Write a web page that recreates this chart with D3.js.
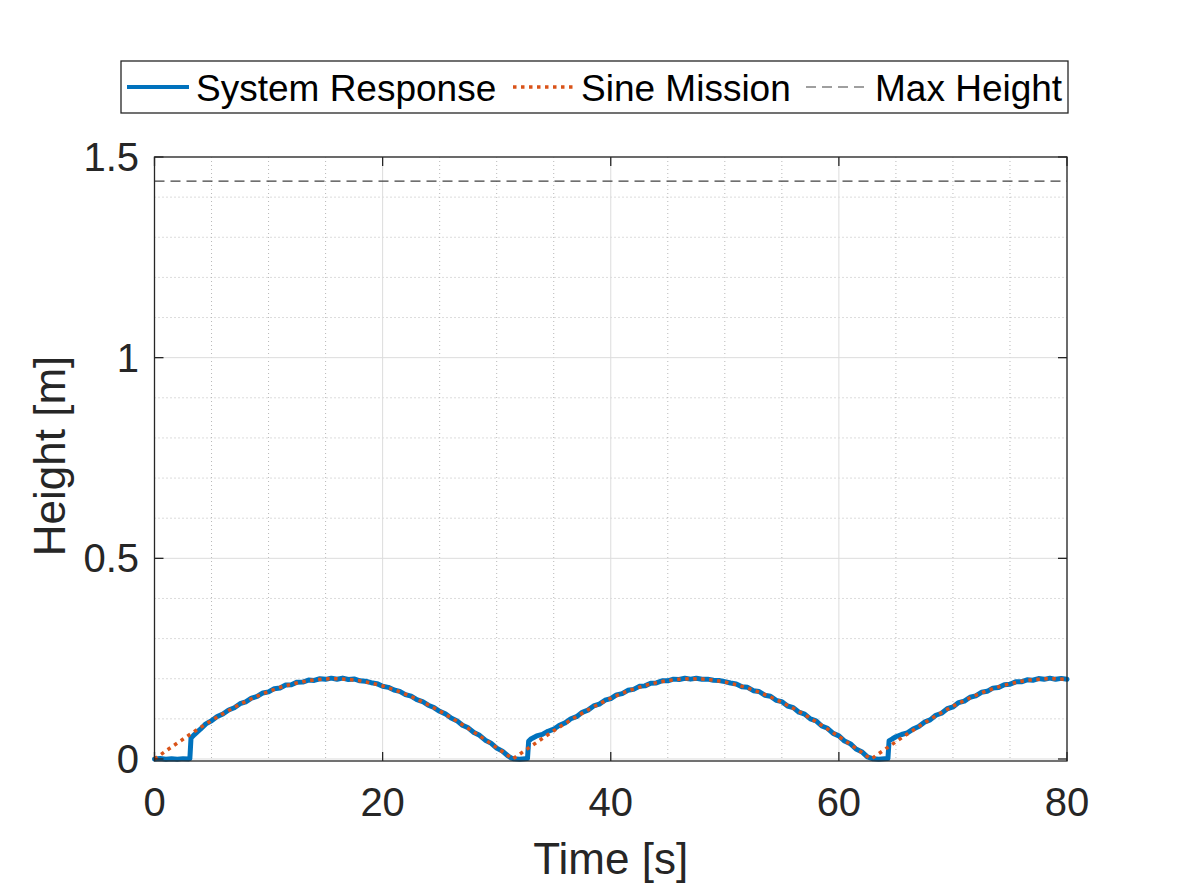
<!DOCTYPE html>
<html>
<head>
<meta charset="utf-8">
<script src="https://cdn.jsdelivr.net/npm/d3@7/dist/d3.min.js"></script>
<style>
  html, body { margin: 0; padding: 0; background: #fff; }
  svg { display: block; font-family: "Liberation Sans", Arial, Helvetica, sans-serif; }
</style>
</head>
<body>
<svg id="chart" width="1181" height="886"></svg>
<script>
// ---------------- data ----------------
const seriesNames = ["System Response", "Sine Mission", "Max Height"];
const maxHeight = 1.44;

const missionTime = [0,1,2,3,4,5,6,7,8,9,10,11,12,13,14,15,16,17,18,19,20,21,22,23,24,25,26,27,28,29,30,31,31.4,32,33,34,35,36,37,38,39,40,41,42,43,44,45,46,47,48,49,50,51,52,53,54,55,56,57,58,59,60,61,62,62.8,63,64,65,66,67,68,69,70,71,72,73,74,75,76,77,78,79,80];
const missionHeight = [0,0.0200,0.0397,0.0591,0.0779,0.0959,0.1129,0.1288,0.1435,0.1567,0.1683,0.1782,0.1864,0.1927,0.1971,0.1995,0.1999,0.1983,0.1948,0.1893,0.1819,0.1726,0.1617,0.1491,0.1351,0.1197,0.1031,0.0855,0.0670,0.0478,0.0282,0.0083,0,0.0117,0.0315,0.0511,0.0702,0.0885,0.1060,0.1224,0.1376,0.1514,0.1637,0.1743,0.1832,0.1903,0.1955,0.1987,0.2000,0.1992,0.1965,0.1918,0.1852,0.1767,0.1665,0.1546,0.1411,0.1263,0.1101,0.0929,0.0748,0.0559,0.0364,0.0166,0,0.0034,0.0233,0.0430,0.0623,0.0810,0.0988,0.1157,0.1314,0.1458,0.1587,0.1701,0.1797,0.1876,0.1936,0.1976,0.1997,0.1998,0.1979];

const responseTime = [0,0.5,1,1.5,2,2.5,3,3.1,3.2,3.5,4,4.5,5,5.5,6,6.5,7,7.5,8,8.5,9,9.5,10,10.5,11,11.5,12,12.5,13,13.5,14,14.5,15,15.5,16,16.5,17,17.5,18,18.5,19,19.5,20,20.5,21,21.5,22,22.5,23,23.5,24,24.5,25,25.5,26,26.5,27,27.5,28,28.5,29,29.5,30,30.5,31,31.3,31.5,32,32.5,32.7,32.8,33,33.5,34,34.5,35,35.5,36,36.5,37,37.5,38,38.5,39,39.5,40,40.5,41,41.5,42,42.5,43,43.5,44,44.5,45,45.5,46,46.5,47,47.5,48,48.5,49,49.5,50,50.5,51,51.5,52,52.5,53,53.5,54,54.5,55,55.5,56,56.5,57,57.5,58,58.5,59,59.5,60,60.5,61,61.5,62,62.5,63,63.5,64,64.3,64.4,64.7,65,65.5,66,66.5,67,67.5,68,68.5,69,69.5,70,70.5,71,71.5,72,72.5,73,73.5,74,74.5,75,75.5,76,76.5,77,77.5,78,78.5,79,79.5,80];
const responseHeight = [0,0.0010,-0.0008,0.0008,-0.0006,0.0009,0.0002,0.0010,0.0520,0.0610,0.0735,0.0875,0.0952,0.1058,0.1122,0.1222,0.1278,0.1378,0.1425,0.1518,0.1558,0.1645,0.1672,0.1752,0.1770,0.1842,0.1852,0.1915,0.1918,0.1966,0.1958,0.2000,0.1985,0.2015,0.1988,0.2016,0.1982,0.1995,0.1948,0.1938,0.1902,0.1878,0.1812,0.1785,0.1718,0.1685,0.1605,0.1565,0.1478,0.1432,0.1340,0.1282,0.1188,0.1125,0.1020,0.0955,0.0842,0.0777,0.0660,0.0590,0.0468,0.0395,0.0272,0.0195,0.0075,0.0020,0.0005,-0.0004,0.0008,0.0010,0.0440,0.0500,0.0575,0.0612,0.0690,0.0742,0.0842,0.0900,0.1002,0.1055,0.1162,0.1218,0.1322,0.1368,0.1465,0.1505,0.1598,0.1628,0.1712,0.1735,0.1810,0.1822,0.1888,0.1895,0.1950,0.1948,0.1990,0.1980,0.2012,0.1990,0.2012,0.1985,0.1990,0.1962,0.1955,0.1928,0.1895,0.1870,0.1798,0.1785,0.1702,0.1682,0.1590,0.1565,0.1462,0.1430,0.1320,0.1280,0.1165,0.1118,0.1000,0.0948,0.0822,0.0765,0.0638,0.0576,0.0446,0.0382,0.0250,0.0182,0.0052,0.0005,-0.0004,0.0006,0.0010,0.0450,0.0505,0.0555,0.0610,0.0652,0.0745,0.0808,0.0918,0.0975,0.1090,0.1140,0.1252,0.1298,0.1405,0.1442,0.1540,0.1572,0.1662,0.1686,0.1766,0.1782,0.1852,0.1862,0.1922,0.1922,0.1972,0.1962,0.2005,0.1985,0.2015,0.1985,0.2008,0.1985];

const xTicks = [0, 20, 40, 60, 80];
const xTickLabels = ["0", "20", "40", "60", "80"];
const yTicks = [0, 0.5, 1, 1.5];
const yTickLabels = ["0", "0.5", "1", "1.5"];
const xMinorTicks = [5,10,15,25,30,35,45,50,55,65,70,75];
const yMinorTicks = [0.1,0.2,0.3,0.4,0.6,0.7,0.8,0.9,1.1,1.2,1.3,1.4];
const xLabel = "Time [s]";
const yLabel = "Height [m]";

// ---------------- layout ----------------
const L = 154.5, R = 1067, T = 157, B = 761;
const axisColor = "#262626";
const blue = "#0072BD", orange = "#D95319";

const svg = d3.select("#chart");
const x = d3.scaleLinear().domain([0, 80]).range([L, R]);
const y = d3.scaleLinear().domain([-0.005, 1.5]).range([B, T]);

// minor grid
const g = svg.append("g");
g.selectAll("line.xm").data(xMinorTicks).enter().append("line")
  .attr("x1", d => x(d)).attr("x2", d => x(d)).attr("y1", T).attr("y2", B)
  .attr("stroke", "#b8b8b8").attr("stroke-width", 1).attr("stroke-dasharray", "1,3");
g.selectAll("line.ym").data(yMinorTicks).enter().append("line")
  .attr("y1", d => y(d)).attr("y2", d => y(d)).attr("x1", L).attr("x2", R)
  .attr("stroke", "#b8b8b8").attr("stroke-width", 1).attr("stroke-dasharray", "1,3");
// major grid
g.selectAll("line.xg").data(xTicks).enter().append("line")
  .attr("x1", d => x(d)).attr("x2", d => x(d)).attr("y1", T).attr("y2", B)
  .attr("stroke", "#dcdcdc").attr("stroke-width", 1);
g.selectAll("line.yg").data(yTicks).enter().append("line")
  .attr("y1", d => y(d)).attr("y2", d => y(d)).attr("x1", L).attr("x2", R)
  .attr("stroke", "#dcdcdc").attr("stroke-width", 1);

// clip
svg.append("clipPath").attr("id", "clip").append("rect")
  .attr("x", L).attr("y", T).attr("width", R - L).attr("height", B - T);
const plot = svg.append("g").attr("clip-path", "url(#clip)");

// max height dashed
plot.append("line")
  .attr("x1", x(0)).attr("x2", x(80)).attr("y1", y(maxHeight)).attr("y2", y(maxHeight))
  .attr("stroke", "#404040").attr("stroke-width", 1.1).attr("stroke-dasharray", "10,6");

const line = d3.line().x(d => x(d[0])).y(d => y(d[1]));
const resp = responseTime.map((t, i) => [t, responseHeight[i]]);
const miss = missionTime.map((t, i) => [t, missionHeight[i]]);

svg.append("path").datum(resp).attr("d", line)
  .attr("fill", "none").attr("stroke", blue).attr("stroke-width", 5)
  .attr("stroke-linejoin", "round").attr("stroke-linecap", "round");
svg.append("path").datum(miss).attr("d", line)
  .attr("fill", "none").attr("stroke", orange).attr("stroke-width", 3.5)
  .attr("stroke-dasharray", "3.5,4.5");

// axes box
const ax = svg.append("g");
ax.append("rect").attr("x", L).attr("y", T).attr("width", R - L).attr("height", B - T)
  .attr("fill", "none").attr("stroke", axisColor).attr("stroke-width", 1.3);

const tl = 9;
xTicks.forEach(v => {
  ax.append("line").attr("x1", x(v)).attr("x2", x(v)).attr("y1", B).attr("y2", B - tl)
    .attr("stroke", axisColor).attr("stroke-width", 1.3);
  ax.append("line").attr("x1", x(v)).attr("x2", x(v)).attr("y1", T).attr("y2", T + tl)
    .attr("stroke", axisColor).attr("stroke-width", 1.3);
});
yTicks.forEach(v => {
  ax.append("line").attr("x1", L).attr("x2", L + tl).attr("y1", y(v)).attr("y2", y(v))
    .attr("stroke", axisColor).attr("stroke-width", 1.3);
  ax.append("line").attr("x1", R).attr("x2", R - tl).attr("y1", y(v)).attr("y2", y(v))
    .attr("stroke", axisColor).attr("stroke-width", 1.3);
});

// tick labels
ax.selectAll("text.xt").data(xTicks).enter().append("text")
  .attr("x", d => x(d)).attr("y", 816).attr("text-anchor", "middle")
  .attr("font-size", 40).attr("fill", axisColor).text((d, i) => xTickLabels[i]);
ax.selectAll("text.yt").data(yTicks).enter().append("text")
  .attr("x", 139).attr("y", d => y(d) + 14).attr("text-anchor", "end")
  .attr("font-size", 40).attr("fill", axisColor).text((d, i) => yTickLabels[i]);

// axis labels
svg.append("text").attr("x", (L + R) / 2).attr("y", 874).attr("text-anchor", "middle")
  .attr("font-size", 44).attr("fill", axisColor).text(xLabel);
svg.append("text").attr("transform", "translate(65," + 456 + ") rotate(-90)")
  .attr("text-anchor", "middle").attr("font-size", 44).attr("fill", axisColor).text(yLabel);

// legend
const lg = svg.append("g");
lg.append("rect").attr("x", 121).attr("y", 61).attr("width", 947).attr("height", 52)
  .attr("fill", "#fff").attr("stroke", axisColor).attr("stroke-width", 1.3);
const ly = 87;
lg.append("line").attr("x1", 127).attr("x2", 189).attr("y1", ly).attr("y2", ly)
  .attr("stroke", blue).attr("stroke-width", 4);
lg.append("text").attr("x", 196).attr("y", 101).attr("font-size", 37).attr("fill", "#000").text(seriesNames[0]);
lg.append("line").attr("x1", 513).attr("x2", 575).attr("y1", ly).attr("y2", ly)
  .attr("stroke", orange).attr("stroke-width", 3.5).attr("stroke-dasharray", "3.5,4.5");
lg.append("text").attr("x", 581).attr("y", 101).attr("font-size", 37).attr("fill", "#000").text(seriesNames[1]);
lg.append("line").attr("x1", 806).attr("x2", 868).attr("y1", ly).attr("y2", ly)
  .attr("stroke", "#404040").attr("stroke-width", 1.1).attr("stroke-dasharray", "10,6");
lg.append("text").attr("x", 875).attr("y", 101).attr("font-size", 37).attr("fill", "#000").text(seriesNames[2]);
</script>
</body>
</html>
